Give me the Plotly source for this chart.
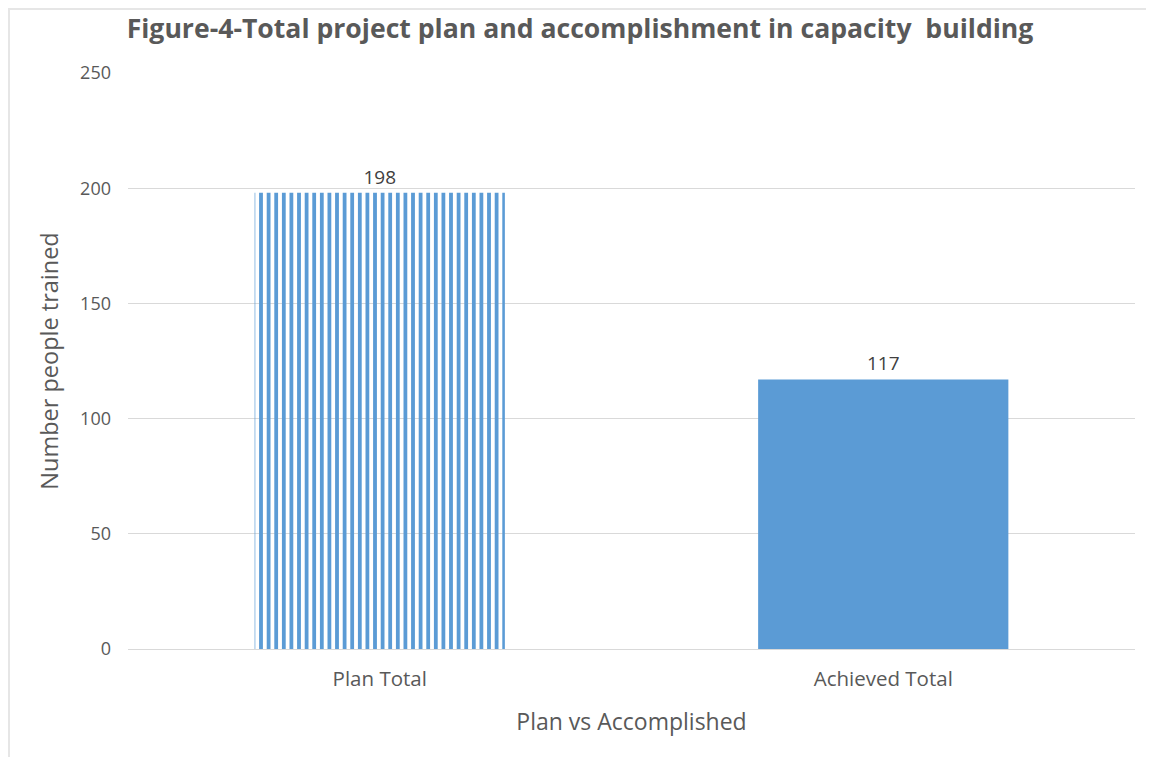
import plotly.graph_objects as go

categories = ["Plan Total", "Achieved Total"]
values = [198, 117]
tick_vals = [0, 50, 100, 150, 200, 250]

blue = "#5B9BD5"
W, H = 1146, 749
ML, MR, MT, MB = 120, 19, 65, 108
pw, ph = W - ML - MR, H - MT - MB

fig = go.Figure()
fig.add_trace(go.Bar(
    x=categories, y=values,
    text=[str(v) for v in values], textposition="outside",
    textfont=dict(family="Open Sans", size=19, color="#404040"),
    cliponaxis=False,
    marker=dict(
        color=[blue, blue],
        line=dict(width=0),
        pattern=dict(shape=["|", ""], size=7.6, solidity=0.5,
                     fgcolor=blue, bgcolor="white", fillmode="replace"),
    ),
))

fig.update_layout(
    width=W, height=H,
    margin=dict(l=ML, r=MR, t=MT, b=MB),
    paper_bgcolor="white", plot_bgcolor="white",
    bargap=0.503,
    showlegend=False,
    title=dict(text="<b>Figure-4-Total project plan and accomplishment in capacity  building</b>",
               x=(580 - 8) / W, xanchor="center", y=1 - (29 - 8) / H, yanchor="middle",
               font=dict(family="Open Sans", size=26.6, color="#595959")),
    font=dict(family="Open Sans", color="#595959"),
    xaxis=dict(
        showgrid=False, showline=True, linecolor="#D9D9D9", linewidth=1,
        tickfont=dict(size=20.5, color="#595959"), ticks="",
        ticklabelstandoff=11,
        title=dict(text="Plan vs Accomplished", font=dict(size=23, color="#595959"), standoff=23),
    ),
    yaxis=dict(
        range=[0, 250], tickvals=tick_vals,
        showgrid=True, gridcolor="#D9D9D9", gridwidth=1,
        zeroline=False, showline=False, ticks="",
        tickfont=dict(size=18, color="#595959"),
        ticklabelstandoff=16,
        title=dict(text="Number people trained", font=dict(size=23.5, color="#595959"), standoff=14),
    ),
    shapes=[dict(type="rect", xref="paper", yref="paper",
                 x0=-ML / pw + 1 / pw, x1=1 + (MR + 20) / pw,
                 y0=-(MB + 20) / ph, y1=1 + (MT - 1) / ph,
                 line=dict(color="#E6E6E6", width=2), fillcolor="rgba(0,0,0,0)", layer="below")],
)

fig.write_html("out.html")
